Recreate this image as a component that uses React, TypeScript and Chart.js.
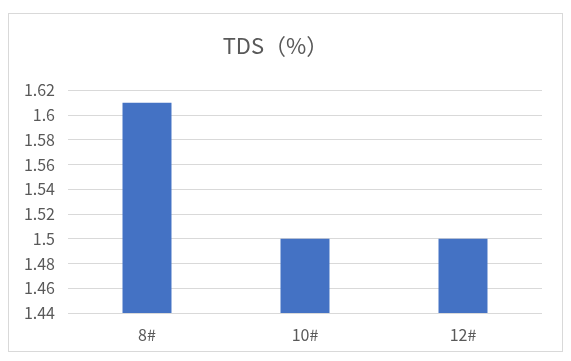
import React, { useEffect, useRef } from "react";
import { Chart, registerables } from "chart.js";

Chart.register(...registerables);

const categories = ["8#", "10#", "12#"];
const values = [1.61, 1.5, 1.5];
const yMin = 1.44;
const yMax = 1.62;
const yStep = 0.02;
const titleText = "TDS（%）";

export default function App() {
  const ref = useRef<HTMLCanvasElement | null>(null);
  useEffect(() => {
    if (!ref.current) return;
    const font = "'Noto Sans CJK SC', 'DejaVu Sans', sans-serif";
    const chart = new Chart(ref.current, {
      type: "bar",
      data: {
        labels: categories,
        datasets: [
          {
            data: values,
            backgroundColor: "#4472C4",
            borderWidth: 0,
            categoryPercentage: 1,
            barPercentage: 0.31,
          },
        ],
      },
      options: {
        animation: false,
        responsive: false,
        maintainAspectRatio: false,
        layout: { padding: { left: 0, right: 20, top: 0, bottom: 0 } },
        plugins: {
          legend: { display: false },
          tooltip: { enabled: false },
          title: {
            display: true,
            text: titleText,
            color: "#595959",
            font: { family: font, size: 22, weight: "normal", lineHeight: 1.2 },
            padding: { top: 18, bottom: 32 },
          },
        },
        scales: {
          x: {
            grid: { display: false, drawTicks: false },
            border: { display: false },
            ticks: {
              color: "#595959",
              font: { family: font, size: 16 },
              padding: 12,
            },
            afterFit: (s: any) => {
              s.height = 38;
            },
          },
          y: {
            min: yMin,
            max: yMax,
            grid: { color: "#d9d9d9", drawTicks: false, lineWidth: 1 },
            border: { display: false },
            ticks: {
              stepSize: yStep,
              color: "#595959",
              font: { family: font, size: 16 },
              padding: 13,
              callback: (v: any) => String(Number(Number(v).toFixed(2))),
            },
            afterFit: (s: any) => {
              s.width = 59;
            },
          },
        },
      },
    });
    return () => chart.destroy();
  }, []);
  return (
    <div
      style={{
        position: "absolute",
        left: 8,
        top: 13,
        width: 553,
        height: 337,
        border: "1px solid #d9d9d9",
        background: "#fff",
      }}
    >
      <canvas ref={ref} width={553} height={337} style={{ display: "block" }} />
    </div>
  );
}
